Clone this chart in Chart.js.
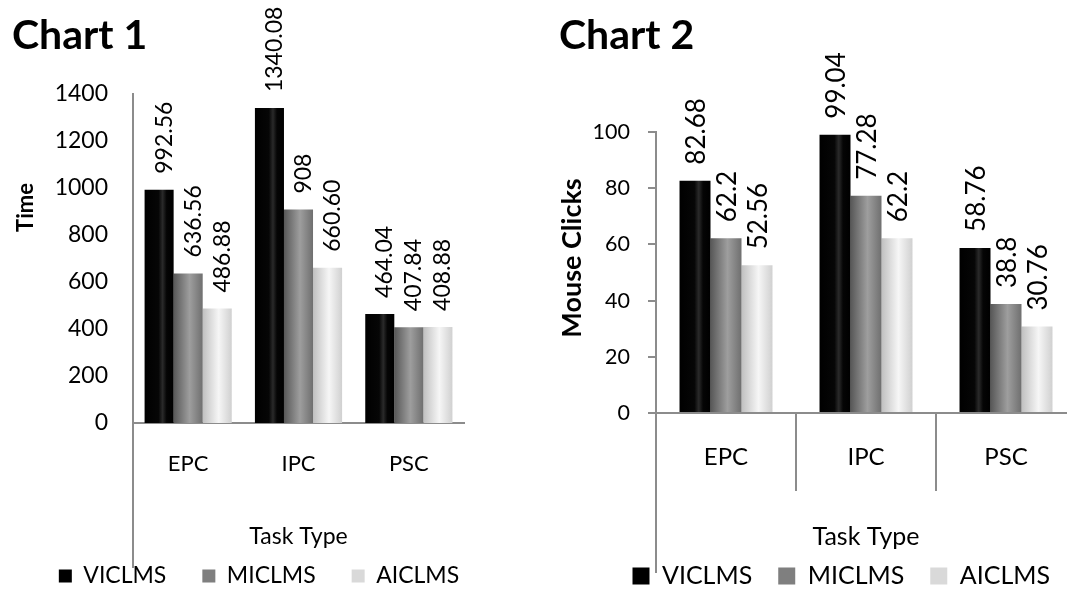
<!DOCTYPE html>
<html><head><meta charset="utf-8">
<script src="https://cdn.jsdelivr.net/npm/chart.js@4.4.1/dist/chart.umd.min.js"></script>
<style>
html,body{margin:0;padding:0;background:#fff;overflow:hidden;width:1067px;height:589px;}
#c1{position:absolute;left:0;top:0;}
#c2{position:absolute;left:530px;top:0;}
</style></head>
<body>
<canvas id="c1" width="518" height="589"></canvas>
<canvas id="c2" width="547" height="589"></canvas>
<script>
// ---- data ----
const categories = ['EPC', 'IPC', 'PSC'];
const seriesNames = ['VICLMS', 'MICLMS', 'AICLMS'];
const timeVICLMS = [992.56, 1340.08, 464.04];
const timeMICLMS = [636.56, 908, 407.84];
const timeAICLMS = [486.88, 660.60, 408.88];
const clicksVICLMS = [82.68, 99.04, 58.76];
const clicksMICLMS = [62.2, 77.28, 38.8];
const clicksAICLMS = [52.56, 62.2, 30.76];
const timeTicks = [0, 200, 400, 600, 800, 1000, 1200, 1400];
const clickTicks = [0, 20, 40, 60, 80, 100];

// ---- styles ----
const FONT = 'Lato';
const AXIS_GRAY = '#8c8c8c';
const flatColors = ['#000000', '#7f7f7f', '#d9d9d9'];
const gradStops = [
  [[0, '#000000'], [0.48, '#060606'], [0.62, '#2a2a2a'], [0.76, '#050505'], [1, '#000000']],
  [[0, '#575757'], [0.55, '#9e9e9e'], [1, '#6f6f6f']],
  [[0, '#c0c0c0'], [0.55, '#f6f6f6'], [1, '#d0d0d0']]
];
Chart.defaults.font.family = FONT;
Chart.defaults.color = '#000';

const barGradient = {
  id: 'barGradient',
  beforeDatasetsDraw(chart) {
    const ctx = chart.ctx;
    chart.data.datasets.forEach((ds, di) => {
      chart.getDatasetMeta(di).data.forEach(el => {
        const g = ctx.createLinearGradient(el.x - el.width / 2, 0, el.x + el.width / 2, 0);
        gradStops[di].forEach(([o, c]) => g.addColorStop(o, c));
        el.options.backgroundColor = g;
      });
    });
  }
};

const valueLabels = {
  id: 'valueLabels',
  afterDatasetsDraw(chart, args, opts) {
    const ctx = chart.ctx;
    ctx.save();
    ctx.font = opts.size + 'px ' + FONT;
    ctx.fillStyle = '#000';
    ctx.textAlign = 'left';
    ctx.textBaseline = 'middle';
    chart.data.datasets.forEach((ds, di) => {
      chart.getDatasetMeta(di).data.forEach((el, i) => {
        const v = ds.data[i];
        const txt = opts.fixed2 && !Number.isInteger(v) ? v.toFixed(2) : String(v);
        ctx.save();
        ctx.translate(el.x + opts.dx, el.y - opts.gap);
        ctx.rotate(-Math.PI / 2);
        ctx.fillText(txt, 0, 0);
        ctx.restore();
      });
    });
    ctx.restore();
  }
};

const axisExtras = {
  id: 'axisExtras',
  afterDraw(chart, args, opts) {
    const {ctx, chartArea} = chart;
    ctx.save();
    ctx.strokeStyle = AXIS_GRAY;
    ctx.lineWidth = 2;
    const x = Math.round(chartArea.left);
    ctx.beginPath();
    ctx.moveTo(x, chartArea.bottom);
    ctx.lineTo(x, opts.lineBottom);
    ctx.stroke();
    // rotated y-axis title
    ctx.fillStyle = '#000';
    ctx.font = 'bold ' + opts.titleSize + 'px ' + FONT;
    ctx.textAlign = 'center';
    ctx.textBaseline = 'middle';
    ctx.translate(opts.titleX, opts.titleY);
    ctx.rotate(-Math.PI / 2);
    ctx.fillText(opts.title, 0, 0);
    ctx.restore();
  }
};

function makeDatasets(arrs) {
  return arrs.map((d, i) => ({
    label: seriesNames[i],
    data: d,
    backgroundColor: (c) => flatColors[c.datasetIndex],
    borderWidth: 0
  }));
}

const plainTick = (v) => String(v);

// ---- Chart 1 ----
new Chart(document.getElementById('c1'), {
  type: 'bar',
  data: { labels: categories, datasets: makeDatasets([timeVICLMS, timeMICLMS, timeAICLMS]) },
  options: {
    responsive: false,
    animation: false,
    layout: { padding: { left: 12, right: 12, top: 0, bottom: -8.5 } },
    datasets: { bar: { categoryPercentage: 0.79, barPercentage: 1 } },
    plugins: {
      title: { display: true, text: 'Chart 1', align: 'start', color: '#000',
        font: { size: 41, weight: 'bold', lineHeight: 1.2 }, padding: { top: 11.5, bottom: 33.3 } },
      legend: { position: 'bottom', align: 'center',
        labels: { boxWidth: 13, boxHeight: 13, padding: 36, color: '#000', font: { size: 23 } } },
      tooltip: { enabled: false },
      valueLabels: { size: 23, gap: 16, dx: 5, fixed2: true },
      axisExtras: { lineBottom: 568, title: 'Time', titleSize: 22, titleX: 25.5, titleY: 207.5 }
    },
    scales: {
      x: {
        grid: { offset: true, drawOnChartArea: false, tickLength: 78, lineWidth: 2,
          color: (c) => (c.index === 0 || c.index === categories.length) ? AXIS_GRAY : 'rgba(0,0,0,0)' },
        border: { color: AXIS_GRAY, width: 2 },
        ticks: { padding: -48, color: '#000', font: { size: 22, lineHeight: 1 } },
        title: { display: true, text: 'Task Type', color: '#000', font: { size: 23, lineHeight: 1 },
          padding: { top: 0, bottom: -20 } },
        afterFit: (s) => { s.height = 105.5; }
      },
      y: {
        min: 0, max: 1400,
        afterBuildTicks: (s) => { s.ticks = timeTicks.map(v => ({ value: v })); },
        grid: { display: false, drawTicks: false },
        border: { color: AXIS_GRAY, width: 2 },
        ticks: { padding: 25, color: '#000', font: { size: 23 }, callback: plainTick },
        afterFit: (s) => { s.width = 121; }
      },
      y2: {
        type: 'linear', position: 'right', display: true,
        grid: { display: false, drawTicks: false }, border: { display: false },
        ticks: { display: false },
        afterFit: (s) => { s.width = 42; }
      }
    }
  },
  plugins: [barGradient, valueLabels, axisExtras]
});

// ---- Chart 2 ----
new Chart(document.getElementById('c2'), {
  type: 'bar',
  data: { labels: categories, datasets: makeDatasets([clicksVICLMS, clicksMICLMS, clicksAICLMS]) },
  options: {
    responsive: false,
    animation: false,
    layout: { padding: { left: 29, right: 1, top: 0, bottom: -9.5 } },
    datasets: { bar: { categoryPercentage: 0.664, barPercentage: 1 } },
    plugins: {
      title: { display: true, text: 'Chart 2', align: 'start', color: '#000',
        font: { size: 41, weight: 'bold', lineHeight: 1.2 }, padding: { top: 11.5, bottom: 71.3 } },
      legend: { position: 'bottom', align: 'end',
        labels: { boxWidth: 17, boxHeight: 17, padding: 26, color: '#000', font: { size: 25 } } },
      tooltip: { enabled: false },
      valueLabels: { size: 26, gap: 16, dx: 2, fixed2: false },
      axisExtras: { lineBottom: 573, title: 'Mouse Clicks', titleSize: 27, titleX: 42.5, titleY: 258 }
    },
    scales: {
      x: {
        grid: { offset: true, drawOnChartArea: false, tickLength: 78, lineWidth: 2, color: AXIS_GRAY },
        border: { color: AXIS_GRAY, width: 2 },
        ticks: { padding: -46, color: '#000', font: { size: 24, lineHeight: 1 } },
        title: { display: true, text: 'Task Type', color: '#000', font: { size: 25, lineHeight: 1 },
          padding: { top: 0, bottom: -12 } },
        afterFit: (s) => { s.height = 124.5; }
      },
      y: {
        min: 0, max: 100,
        afterBuildTicks: (s) => { s.ticks = clickTicks.map(v => ({ value: v })); },
        grid: { drawOnChartArea: false, drawTicks: true, tickLength: 8, lineWidth: 2, color: AXIS_GRAY },
        border: { color: AXIS_GRAY, width: 2 },
        ticks: { padding: 18, color: '#000', font: { size: 21.5 }, callback: plainTick },
        afterFit: (s) => { s.width = 97; }
      }
    }
  },
  plugins: [barGradient, valueLabels, axisExtras]
});
</script>
</body></html>
